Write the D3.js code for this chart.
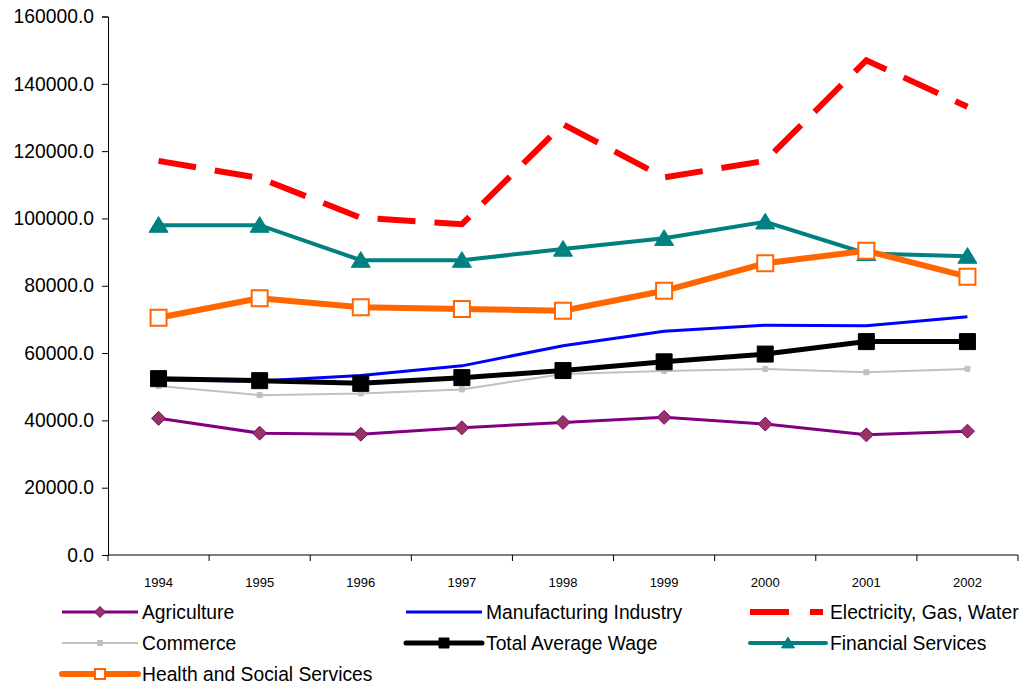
<!DOCTYPE html>
<html>
<head>
<meta charset="utf-8">
<script src="https://cdn.jsdelivr.net/npm/d3@7"></script>
<style>
  html, body { margin: 0; padding: 0; background: #fff; }
  svg { display: block; font-family: "Liberation Sans", Arial, sans-serif; }
</style>
</head>
<body>
<svg id="chart" width="1032" height="685"></svg>
<script>
// Average monthly wage by sector, 1994–2002
const years = ["1994", "1995", "1996", "1997", "1998", "1999", "2000", "2001", "2002"];
const yTicks = [0, 20000, 40000, 60000, 80000, 100000, 120000, 140000, 160000];

const agriculture   = [40600, 36200, 35900, 37800, 39400, 40900, 38900, 35700, 36800];
const manufacturing = [52000, 51700, 53300, 56200, 62200, 66500, 68300, 68100, 70800];
const electricity   = [117100, 112000, 100200, 98300, 128000, 112200, 117100, 147000, 133200];
const commerce      = [50200, 47500, 48000, 49200, 53800, 54700, 55300, 54300, 55300];
const totalWage     = [52400, 51800, 51000, 52700, 54800, 57400, 59700, 63400, 63400];
const financial     = [98000, 98000, 87600, 87600, 90900, 94100, 99000, 89600, 88800];
const health        = [70500, 76300, 73600, 73100, 72600, 78500, 86700, 90400, 82700];

const seriesNames = ["Agriculture", "Manufacturing Industry", "Electricity, Gas, Water",
                     "Commerce", "Total Average Wage", "Financial Services", "Health and Social Services"];
const seriesValues = [agriculture, manufacturing, electricity, commerce, totalWage, financial, health];

// Visual style per series (same order as the names above)
const styles = [
  { color: "#800080", width: 3, dash: null, marker: "diamond", size: 14, fill: "#993366", mstroke: "#800080" },
  { color: "#0000FF", width: 3, dash: null, marker: null },
  { color: "#FF0000", width: 6, dash: "38,19", marker: null },
  { color: "#C0C0C0", width: 2, dash: null, marker: "square", size: 5, fill: "#C0C0C0", mstroke: "#C0C0C0" },
  { color: "#000000", width: 5, dash: null, marker: "square", size: 16, fill: "#000000", mstroke: "#000000" },
  { color: "#008080", width: 4, dash: null, marker: "triangle", size: 19, fill: "#008080", mstroke: "#008080" },
  { color: "#FF6600", width: 6, dash: null, marker: "square", size: 16, fill: "#FFFFFF", mstroke: "#FF6600", mwidth: 2 }
];

const svg = d3.select("#chart");
const plot = { left: 108, right: 1018, top: 16.5, bottom: 555 };
const labelSize = 19.3;

const x = d3.scaleBand().domain(years).range([plot.left, plot.right]);
const y = d3.scaleLinear().domain([0, 160000]).range([plot.bottom, plot.top]);
const cx = d => x(d) + x.bandwidth() / 2;

// Y axis
const yAxis = d3.axisLeft(y).tickValues(yTicks).tickSize(6).tickPadding(8)
  .tickFormat(d => d3.format(".1f")(d));
const gy = svg.append("g").attr("transform", `translate(${plot.left},0)`).call(yAxis);
gy.select(".domain").attr("stroke", "#000").attr("stroke-width", 1);
gy.selectAll(".tick line").attr("stroke", "#000");
gy.selectAll(".tick text").attr("font-size", labelSize).attr("fill", "#000")
  .attr("font-family", "Liberation Sans, Arial, sans-serif");

// X axis: ticks on band boundaries, labels at band centres
const gx = svg.append("g").attr("transform", `translate(0,${plot.bottom})`);
gx.append("line").attr("x1", plot.left).attr("x2", plot.right).attr("stroke", "#000");
const bounds = years.map(d => x(d)).concat([plot.right]);
gx.selectAll("line.tk").data(bounds).join("line").attr("class", "tk")
  .attr("x1", d => d).attr("x2", d => d).attr("y1", 0).attr("y2", 6).attr("stroke", "#000");
gx.selectAll("text").data(years).join("text")
  .attr("x", d => cx(d)).attr("y", 32).attr("text-anchor", "middle")
  .attr("font-size", 13).attr("fill", "#000").text(d => d);

// Marker shapes
function markerPath(type, size) {
  const s = size / 2;
  if (type === "diamond") return `M0,${-s}L${s},0L0,${s}L${-s},0Z`;
  if (type === "square") return `M${-s},${-s}H${s}V${s}H${-s}Z`;
  if (type === "triangle") return `M0,${-s * 0.9}L${s},${s * 0.75}L${-s},${s * 0.75}Z`;
  return "";
}

const line = d3.line().x(d => cx(d.year)).y(d => y(d.value));

seriesValues.forEach((vals, i) => {
  const st = styles[i];
  const pts = years.map((yr, j) => ({ year: yr, value: vals[j] }));
  const g = svg.append("g");
  g.append("path").datum(pts).attr("d", line)
    .attr("fill", "none").attr("stroke", st.color).attr("stroke-width", st.width)
    .attr("stroke-linejoin", "miter").attr("stroke-dasharray", st.dash);
  if (st.marker) {
    g.selectAll("path.m").data(pts).join("path").attr("class", "m")
      .attr("d", markerPath(st.marker, st.size))
      .attr("transform", d => `translate(${cx(d.year)},${y(d.value)})`)
      .attr("fill", st.fill).attr("stroke", st.mstroke).attr("stroke-width", st.mwidth || 1);
  }
});

// Legend: three columns, three rows
const legendCols = [62, 406, 750];
const legendRows = [612, 643, 674];
seriesNames.forEach((name, i) => {
  const st = styles[i];
  const lx = legendCols[i % 3], ly = legendRows[Math.floor(i / 3)];
  const g = svg.append("g").attr("transform", `translate(${lx},${ly})`);
  if (st.dash) {
    g.append("line").attr("x1", 0).attr("x2", 39).attr("stroke", st.color).attr("stroke-width", st.width);
    g.append("line").attr("x1", 60).attr("x2", 73).attr("stroke", st.color).attr("stroke-width", st.width);
  } else {
    g.append("line").attr("x1", 0).attr("x2", 76).attr("stroke", st.color)
      .attr("stroke-width", st.width).attr("stroke-linecap", st.width >= 4 ? "round" : "butt");
  }
  if (st.marker) {
    const sz = st.marker === "square" && st.size > 10 ? 10 : (st.marker === "diamond" ? 11 : (st.marker === "triangle" ? 13 : st.size));
    g.append("path").attr("d", markerPath(st.marker, sz)).attr("transform", "translate(38,0)")
      .attr("fill", st.fill).attr("stroke", st.mstroke).attr("stroke-width", st.mwidth || 1);
  }
  g.append("text").attr("x", 80).attr("y", 0).attr("dy", "0.35em")
    .attr("font-size", labelSize).attr("fill", "#000").text(name);
});
</script>
</body>
</html>
